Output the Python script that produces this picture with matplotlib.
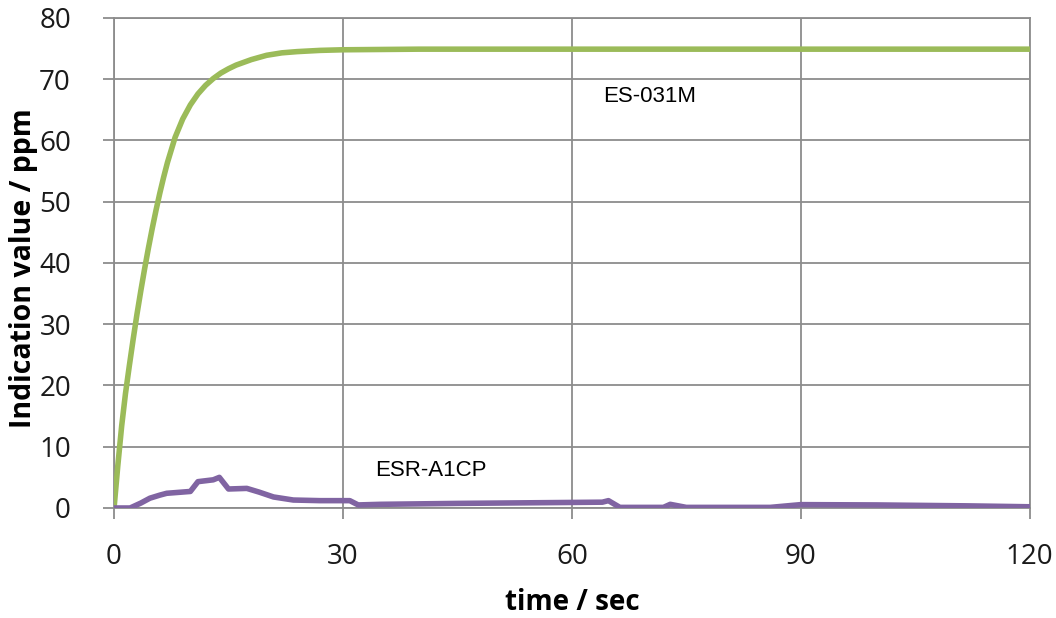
import matplotlib
matplotlib.use("Agg")
import matplotlib.pyplot as plt

# ES-031M response (time in sec, ppm)
es_t = [0, 0.5, 1, 1.5, 2, 2.5, 3, 3.5, 4, 4.5, 5, 5.5, 6, 6.5, 7, 8, 9, 10, 11, 12, 13, 14, 15, 16, 18, 20, 22, 24, 27, 30, 35, 40, 60, 90, 120]
es_v = [0, 7, 13.4, 18.7, 23.2, 27.5, 31.6, 35.4, 39, 42.4, 45.6, 48.6, 51.4, 54, 56.4, 60.5, 63.5, 65.8, 67.6, 69.0, 70.1, 71.0, 71.7, 72.3, 73.2, 73.9, 74.3, 74.5, 74.7, 74.8, 74.85, 74.9, 74.9, 74.9, 74.9]

# ESR-A1CP response
esr_t = [0, 2.1, 3.5, 4.7, 6, 6.9, 10, 11.0, 13.0, 13.8, 15.0, 17.4, 19, 20.9, 23.5, 27, 30.9, 32, 34.9, 45, 59.3, 64, 64.8, 66.3, 72, 72.9, 75, 86, 90, 100, 111.8, 120]
esr_v = [0, 0, 0.8, 1.6, 2.1, 2.4, 2.7, 4.3, 4.6, 5.0, 3.1, 3.2, 2.6, 1.8, 1.3, 1.2, 1.2, 0.5, 0.6, 0.75, 0.9, 0.95, 1.2, 0.1, 0.1, 0.6, 0.1, 0.1, 0.55, 0.5, 0.35, 0.2]

x_ticks = [0, 30, 60, 90, 120]
y_ticks = [0, 10, 20, 30, 40, 50, 60, 70, 80]

fig = plt.figure(figsize=(10.56, 6.18), dpi=100)
ax = fig.add_axes([0.108, 0.178, 0.867, 0.793])

ax.plot(es_t, es_v, color="#9BBB59", lw=4.0, solid_capstyle="round", solid_joinstyle="round", zorder=3)
ax.plot(esr_t, esr_v, color="#8064A2", lw=4.0, solid_capstyle="round", solid_joinstyle="round", zorder=3)

ax.set_xlim(0, 120)
ax.set_ylim(0, 80)
ax.set_xticks(x_ticks)
ax.set_yticks(y_ticks)
ax.grid(True, color="#8c8c8c", lw=1.3)
ax.set_axisbelow(True)
for s in ax.spines.values():
    s.set_color("#8c8c8c")
    s.set_linewidth(1.3)
ax.tick_params(length=8, width=1.3, color="#8c8c8c", labelsize=20, labelcolor="#1a1a1a")
ax.tick_params(axis="x", pad=17)
ax.tick_params(axis="y", pad=23)
for lab in ax.get_xticklabels() + ax.get_yticklabels():
    lab.set_family("Open Sans")

ax.set_xlabel("time / sec", fontsize=20, fontweight="bold", family="Open Sans")
ax.set_ylabel("Indication value / ppm", fontsize=20.5, fontweight="bold", family="Open Sans")
ax.xaxis.label.set_va("center")
ax.yaxis.label.set_va("center")
ax.xaxis.set_label_coords(0.5, -0.192)
ax.yaxis.set_label_coords(-0.0993, 0.49)

ax.text(70.2, 67.1, "ES-031M", fontsize=16, ha="center", va="center", family="Liberation Sans")
ax.text(41.5, 6.1, "ESR-A1CP", fontsize=16, ha="center", va="center", family="Liberation Sans")

fig.savefig("out.png", dpi=100)
